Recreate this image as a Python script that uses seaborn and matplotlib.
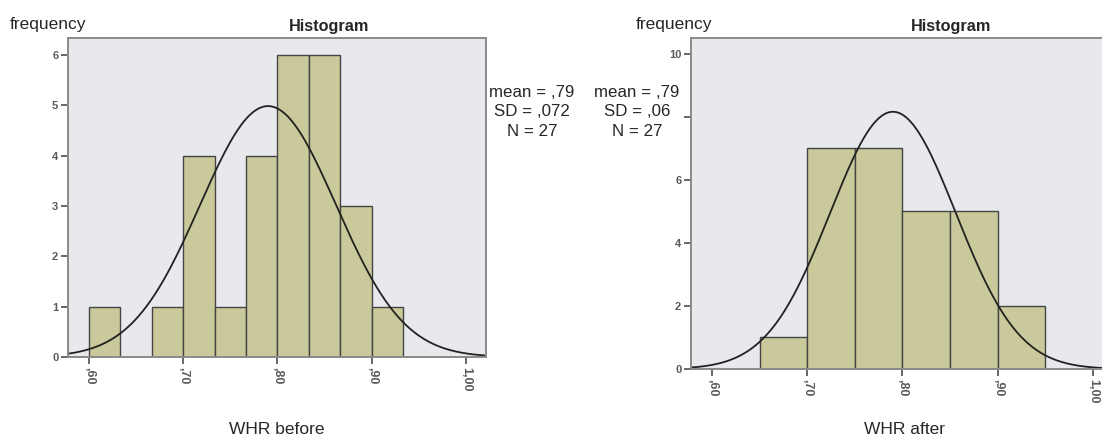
import numpy as np
import pandas as pd
import matplotlib.pyplot as plt
import seaborn as sns

# ---- data ----
before_counts = [1, 0, 1, 4, 1, 4, 6, 6, 3, 1]
before_start, before_width = 0.60, 1 / 30
before_mean, before_sd, before_n = 0.79, 0.072, 27
before_stats = ["mean = ,79", "SD = ,072", "N = 27"]

after_counts = [1, 7, 7, 5, 5, 2]
after_start, after_width = 0.65, 0.05
after_mean, after_sd, after_n = 0.79, 0.066, 27
after_stats = ["mean = ,79", "SD = ,06", "N = 27"]

x_ticks = [0.60, 0.70, 0.80, 0.90, 1.00]
x_ticklabels = [",60", ",70", ",80", ",90", "1,00"]
before_yticks = [0, 1, 2, 3, 4, 5, 6]
after_yticks = [0, 2, 4, 6, 8, 10]
after_yticklabels = ["0", "2", "4", "6", "", "10"]

BG = "#e8e9ec"
BAR = "#c9c99b"
EDGE = "#444444"
SPINE = "#8a8a8a"
TICK = "#5a5a5a"

sns.set_style("white")
plt.rcParams['font.family'] = ['Liberation Sans', 'DejaVu Sans']

W, H = 1102, 436
fig = plt.figure(figsize=(W / 100, H / 100), dpi=100)


def px_axes(left, top, right, bottom):
    return fig.add_axes([left / W, 1 - bottom / H, (right - left) / W, (bottom - top) / H])


def draw_hist(ax, counts, start, width, mean, sd, n, ymax):
    edges = start + width * np.arange(len(counts) + 1)
    mids = (edges[:-1] + edges[1:]) / 2
    df = pd.DataFrame({"whr": mids, "count": counts})
    sns.histplot(data=df, x="whr", weights="count", bins=list(edges), ax=ax,
                 color=BAR, alpha=1, edgecolor=EDGE, linewidth=1.0)
    # normal curve scaled to the histogram
    xs = np.linspace(0.578, 1.03, 400)
    ys = n * width * np.exp(-0.5 * ((xs - mean) / sd) ** 2) / (sd * np.sqrt(2 * np.pi))
    sns.lineplot(x=xs, y=ys, ax=ax, color="#222222", linewidth=1.3)
    ax.set_facecolor(BG)
    ax.set_xlim(0.578, 1.021)
    ax.set_ylim(0, ymax)
    ax.set_xticks(x_ticks)
    ax.set_xticklabels(x_ticklabels, rotation=-90, fontsize=9, color=TICK,
                       fontweight="bold")
    ax.set_xlabel("")
    ax.set_ylabel("")
    for s in ax.spines.values():
        s.set_color(SPINE)
        s.set_linewidth(1.4)
    ax.tick_params(axis="both", which="major", bottom=True, left=True, direction="out",
                   length=5, width=1.3, color=TICK, labelcolor=TICK, pad=2)
    ax.tick_params(axis="y", labelsize=8)


ax1 = px_axes(68, 38, 486, 357)
draw_hist(ax1, before_counts, before_start, before_width, before_mean, before_sd, before_n, 6.34)
ax1.set_yticks(before_yticks)
ax1.set_yticklabels([str(t) for t in before_yticks], fontweight="bold")

ax2 = px_axes(691, 38, 1113, 369)
draw_hist(ax2, after_counts, after_start, after_width, after_mean, after_sd, after_n, 10.5)
ax2.set_yticks(after_yticks)
ax2.set_yticklabels(after_yticklabels, fontweight="bold")

# texts around the panels
fig.text(10 / W, 1 - 24 / H, "frequency", fontsize=12.5, va="center", ha="left")
fig.text(636 / W, 1 - 24 / H, "frequency", fontsize=12.5, va="center", ha="left")
fig.text(329 / W, 1 - 27 / H, "Histogram", fontsize=11.7, fontweight="bold", va="center", ha="center")
fig.text(951 / W, 1 - 27 / H, "Histogram", fontsize=11.7, fontweight="bold", va="center", ha="center")
fig.text(532 / W, 1 - 112 / H, "\n".join(before_stats), fontsize=12.2, va="center", ha="center",
         multialignment="center", linespacing=1.37)
fig.text(637 / W, 1 - 112 / H, "\n".join(after_stats), fontsize=12.2, va="center", ha="center",
         multialignment="center", linespacing=1.37)
fig.text(277 / W, 1 - 429 / H, "WHR before", fontsize=12.5, va="center", ha="center")
fig.text(904 / W, 1 - 429 / H, "WHR after", fontsize=12.5, va="center", ha="center")

fig.savefig("out.png", dpi=100, facecolor="white")
